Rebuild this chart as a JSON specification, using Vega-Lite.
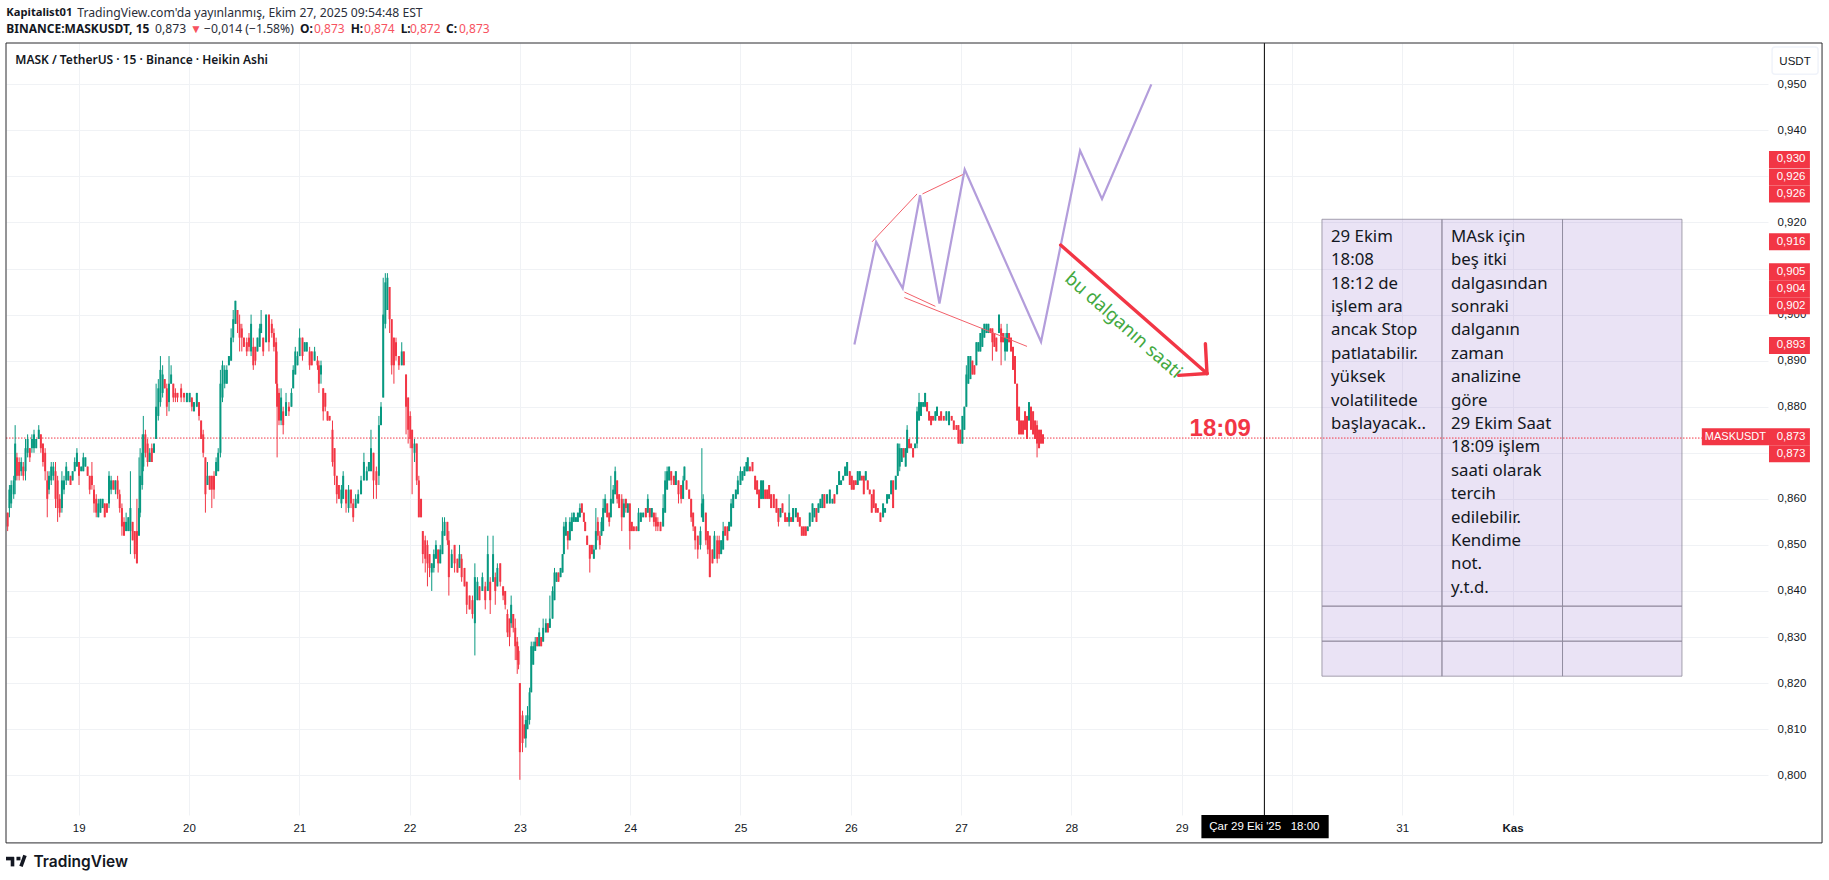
{
"$schema":"https://vega.github.io/schema/vega-lite/v6.json",
"width":1762,"height":772,"autosize":"none",
"padding":{"left":6,"top":43,"right":61,"bottom":65},
"background":"#ffffff",
"config":{"view":{"stroke":null},"font":"Noto Sans"},
"datasets":{
"candles":[
{"d":18.356,"o":0.857,"c":0.854,"p":0.853,"h":0.857},
{"d":18.372,"o":0.858,"c":0.862,"p":0.856,"h":0.863},
{"d":18.388,"o":0.859,"c":0.863,"p":0.858,"h":0.864},
{"d":18.411,"o":0.861,"c":0.864,"p":0.860,"h":0.865},
{"d":18.424,"o":0.864,"c":0.872,"p":0.861,"h":0.876},
{"d":18.440,"o":0.869,"c":0.865,"p":0.864,"h":0.870},
{"d":18.460,"o":0.868,"c":0.865,"p":0.864,"h":0.869},
{"d":18.479,"o":0.866,"c":0.868,"p":0.865,"h":0.869},
{"d":18.498,"o":0.867,"c":0.865,"p":0.864,"h":0.868},
{"d":18.518,"o":0.866,"c":0.871,"p":0.864,"h":0.873},
{"d":18.537,"o":0.870,"c":0.873,"p":0.869,"h":0.874},
{"d":18.557,"o":0.871,"c":0.869,"p":0.868,"h":0.871},
{"d":18.576,"o":0.871,"c":0.873,"p":0.870,"h":0.874},
{"d":18.595,"o":0.871,"c":0.874,"p":0.870,"h":0.875},
{"d":18.615,"o":0.871,"c":0.873,"p":0.871,"h":0.873},
{"d":18.638,"o":0.873,"c":0.875,"p":0.873,"h":0.876},
{"d":18.657,"o":0.874,"c":0.871,"p":0.870,"h":0.874},
{"d":18.676,"o":0.872,"c":0.868,"p":0.867,"h":0.872},
{"d":18.696,"o":0.870,"c":0.866,"p":0.864,"h":0.871},
{"d":18.715,"o":0.864,"c":0.860,"p":0.856,"h":0.866},
{"d":18.731,"o":0.862,"c":0.865,"p":0.861,"h":0.866},
{"d":18.751,"o":0.864,"c":0.867,"p":0.863,"h":0.868},
{"d":18.770,"o":0.865,"c":0.867,"p":0.864,"h":0.868},
{"d":18.790,"o":0.866,"c":0.860,"p":0.858,"h":0.868},
{"d":18.809,"o":0.864,"c":0.858,"p":0.855,"h":0.865},
{"d":18.828,"o":0.860,"c":0.857,"p":0.856,"h":0.861},
{"d":18.848,"o":0.858,"c":0.864,"p":0.857,"h":0.866},
{"d":18.867,"o":0.862,"c":0.864,"p":0.861,"h":0.865},
{"d":18.887,"o":0.864,"c":0.867,"p":0.863,"h":0.868},
{"d":18.906,"o":0.864,"c":0.866,"p":0.864,"h":0.866},
{"d":18.926,"o":0.865,"c":0.863,"p":0.863,"h":0.865},
{"d":18.945,"o":0.864,"c":0.866,"p":0.864,"h":0.866},
{"d":18.964,"o":0.866,"c":0.868,"p":0.866,"h":0.869},
{"d":18.984,"o":0.867,"c":0.870,"p":0.867,"h":0.871},
{"d":19.003,"o":0.868,"c":0.865,"p":0.863,"h":0.868},
{"d":19.023,"o":0.866,"c":0.867,"p":0.866,"h":0.867},
{"d":19.042,"o":0.866,"c":0.869,"p":0.866,"h":0.870},
{"d":19.061,"o":0.867,"c":0.869,"p":0.867,"h":0.869},
{"d":19.081,"o":0.867,"c":0.865,"p":0.865,"h":0.867},
{"d":19.100,"o":0.865,"c":0.862,"p":0.861,"h":0.865},
{"d":19.120,"o":0.865,"c":0.863,"p":0.862,"h":0.868},
{"d":19.139,"o":0.862,"c":0.859,"p":0.857,"h":0.863},
{"d":19.159,"o":0.860,"c":0.857,"p":0.856,"h":0.861},
{"d":19.178,"o":0.856,"c":0.859,"p":0.856,"h":0.860},
{"d":19.197,"o":0.857,"c":0.860,"p":0.857,"h":0.860},
{"d":19.217,"o":0.858,"c":0.860,"p":0.858,"h":0.860},
{"d":19.236,"o":0.859,"c":0.856,"p":0.856,"h":0.859},
{"d":19.256,"o":0.859,"c":0.857,"p":0.857,"h":0.859},
{"d":19.275,"o":0.859,"c":0.865,"p":0.858,"h":0.866},
{"d":19.294,"o":0.862,"c":0.864,"p":0.861,"h":0.865},
{"d":19.314,"o":0.864,"c":0.862,"p":0.862,"h":0.864},
{"d":19.333,"o":0.862,"c":0.864,"p":0.861,"h":0.864},
{"d":19.353,"o":0.864,"c":0.861,"p":0.860,"h":0.865},
{"d":19.372,"o":0.861,"c":0.858,"p":0.857,"h":0.862},
{"d":19.392,"o":0.858,"c":0.854,"p":0.852,"h":0.859},
{"d":19.411,"o":0.855,"c":0.852,"p":0.852,"h":0.856},
{"d":19.430,"o":0.853,"c":0.855,"p":0.853,"h":0.857},
{"d":19.450,"o":0.853,"c":0.856,"p":0.853,"h":0.856},
{"d":19.469,"o":0.853,"c":0.858,"p":0.848,"h":0.866},
{"d":19.489,"o":0.855,"c":0.851,"p":0.851,"h":0.855},
{"d":19.508,"o":0.853,"c":0.848,"p":0.847,"h":0.853},
{"d":19.528,"o":0.853,"c":0.846,"p":0.846,"h":0.860},
{"d":19.547,"o":0.852,"c":0.858,"p":0.852,"h":0.869},
{"d":19.557,"o":0.857,"c":0.865,"p":0.856,"h":0.871},
{"d":19.576,"o":0.863,"c":0.870,"p":0.862,"h":0.874},
{"d":19.586,"o":0.867,"c":0.874,"p":0.866,"h":0.878},
{"d":19.605,"o":0.874,"c":0.870,"p":0.869,"h":0.875},
{"d":19.625,"o":0.872,"c":0.868,"p":0.867,"h":0.873},
{"d":19.644,"o":0.868,"c":0.870,"p":0.868,"h":0.871},
{"d":19.663,"o":0.871,"c":0.868,"p":0.868,"h":0.872},
{"d":19.683,"o":0.870,"c":0.872,"p":0.870,"h":0.872},
{"d":19.702,"o":0.873,"c":0.880,"p":0.873,"h":0.885},
{"d":19.722,"o":0.878,"c":0.884,"p":0.877,"h":0.886},
{"d":19.741,"o":0.881,"c":0.888,"p":0.880,"h":0.891},
{"d":19.761,"o":0.883,"c":0.887,"p":0.882,"h":0.889},
{"d":19.780,"o":0.886,"c":0.884,"p":0.884,"h":0.886},
{"d":19.799,"o":0.884,"c":0.880,"p":0.878,"h":0.885},
{"d":19.819,"o":0.881,"c":0.885,"p":0.879,"h":0.891},
{"d":19.838,"o":0.885,"c":0.887,"p":0.885,"h":0.889},
{"d":19.858,"o":0.885,"c":0.882,"p":0.881,"h":0.885},
{"d":19.877,"o":0.883,"c":0.882,"p":0.881,"h":0.884},
{"d":19.896,"o":0.883,"c":0.882,"p":0.881,"h":0.883},
{"d":19.929,"o":0.884,"c":0.882,"p":0.881,"h":0.885},
{"d":19.955,"o":0.883,"c":0.882,"p":0.881,"h":0.883},
{"d":19.981,"o":0.881,"c":0.883,"p":0.881,"h":0.883},
{"d":20.006,"o":0.881,"c":0.883,"p":0.881,"h":0.883},
{"d":20.026,"o":0.882,"c":0.880,"p":0.879,"h":0.882},
{"d":20.045,"o":0.879,"c":0.881,"p":0.879,"h":0.881},
{"d":20.071,"o":0.880,"c":0.883,"p":0.880,"h":0.883},
{"d":20.091,"o":0.881,"c":0.878,"p":0.877,"h":0.881},
{"d":20.110,"o":0.877,"c":0.873,"p":0.873,"h":0.877},
{"d":20.129,"o":0.874,"c":0.870,"p":0.869,"h":0.875},
{"d":20.149,"o":0.869,"c":0.861,"p":0.857,"h":0.869},
{"d":20.168,"o":0.863,"c":0.865,"p":0.863,"h":0.868},
{"d":20.188,"o":0.865,"c":0.862,"p":0.862,"h":0.865},
{"d":20.207,"o":0.865,"c":0.862,"p":0.858,"h":0.865},
{"d":20.227,"o":0.865,"c":0.862,"p":0.860,"h":0.866},
{"d":20.246,"o":0.865,"c":0.868,"p":0.865,"h":0.869},
{"d":20.265,"o":0.866,"c":0.870,"p":0.866,"h":0.871},
{"d":20.285,"o":0.870,"c":0.885,"p":0.869,"h":0.888},
{"d":20.304,"o":0.882,"c":0.889,"p":0.881,"h":0.890},
{"d":20.324,"o":0.885,"c":0.888,"p":0.884,"h":0.889},
{"d":20.343,"o":0.885,"c":0.888,"p":0.885,"h":0.889},
{"d":20.362,"o":0.889,"c":0.891,"p":0.889,"h":0.891},
{"d":20.382,"o":0.890,"c":0.895,"p":0.890,"h":0.897},
{"d":20.401,"o":0.895,"c":0.899,"p":0.894,"h":0.901},
{"d":20.421,"o":0.898,"c":0.903,"p":0.898,"h":0.903},
{"d":20.440,"o":0.901,"c":0.898,"p":0.896,"h":0.901},
{"d":20.459,"o":0.898,"c":0.895,"p":0.892,"h":0.900},
{"d":20.479,"o":0.897,"c":0.895,"p":0.892,"h":0.898},
{"d":20.498,"o":0.895,"c":0.893,"p":0.893,"h":0.895},
{"d":20.524,"o":0.894,"c":0.892,"p":0.891,"h":0.895},
{"d":20.544,"o":0.895,"c":0.893,"p":0.892,"h":0.896},
{"d":20.563,"o":0.892,"c":0.898,"p":0.891,"h":0.900},
{"d":20.583,"o":0.893,"c":0.889,"p":0.888,"h":0.895},
{"d":20.602,"o":0.893,"c":0.890,"p":0.889,"h":0.893},
{"d":20.621,"o":0.892,"c":0.895,"p":0.892,"h":0.895},
{"d":20.641,"o":0.893,"c":0.897,"p":0.893,"h":0.898},
{"d":20.654,"o":0.896,"c":0.898,"p":0.896,"h":0.901},
{"d":20.673,"o":0.895,"c":0.892,"p":0.891,"h":0.895},
{"d":20.699,"o":0.894,"c":0.900,"p":0.894,"h":0.900},
{"d":20.725,"o":0.900,"c":0.894,"p":0.892,"h":0.900},
{"d":20.751,"o":0.898,"c":0.896,"p":0.895,"h":0.899},
{"d":20.770,"o":0.896,"c":0.893,"p":0.892,"h":0.897},
{"d":20.790,"o":0.894,"c":0.885,"p":0.885,"h":0.895},
{"d":20.799,"o":0.885,"c":0.880,"p":0.869,"h":0.892},
{"d":20.816,"o":0.883,"c":0.877,"p":0.876,"h":0.884},
{"d":20.835,"o":0.877,"c":0.882,"p":0.876,"h":0.884},
{"d":20.854,"o":0.879,"c":0.876,"p":0.874,"h":0.880},
{"d":20.880,"o":0.878,"c":0.881,"p":0.878,"h":0.883},
{"d":20.906,"o":0.880,"c":0.879,"p":0.878,"h":0.881},
{"d":20.929,"o":0.880,"c":0.883,"p":0.880,"h":0.884},
{"d":20.945,"o":0.884,"c":0.888,"p":0.884,"h":0.889},
{"d":20.964,"o":0.887,"c":0.892,"p":0.887,"h":0.893},
{"d":20.984,"o":0.889,"c":0.891,"p":0.889,"h":0.892},
{"d":21.003,"o":0.891,"c":0.895,"p":0.891,"h":0.897},
{"d":21.029,"o":0.895,"c":0.891,"p":0.890,"h":0.895},
{"d":21.049,"o":0.892,"c":0.894,"p":0.892,"h":0.894},
{"d":21.068,"o":0.892,"c":0.894,"p":0.892,"h":0.894},
{"d":21.094,"o":0.892,"c":0.889,"p":0.888,"h":0.893},
{"d":21.113,"o":0.892,"c":0.889,"p":0.889,"h":0.892},
{"d":21.139,"o":0.890,"c":0.892,"p":0.890,"h":0.893},
{"d":21.165,"o":0.890,"c":0.889,"p":0.888,"h":0.891},
{"d":21.178,"o":0.889,"c":0.885,"p":0.883,"h":0.890},
{"d":21.197,"o":0.887,"c":0.889,"p":0.885,"h":0.890},
{"d":21.217,"o":0.884,"c":0.879,"p":0.877,"h":0.884},
{"d":21.236,"o":0.883,"c":0.880,"p":0.879,"h":0.883},
{"d":21.256,"o":0.879,"c":0.877,"p":0.877,"h":0.879},
{"d":21.275,"o":0.878,"c":0.877,"p":0.877,"h":0.878},
{"d":21.301,"o":0.875,"c":0.868,"p":0.867,"h":0.877},
{"d":21.320,"o":0.871,"c":0.865,"p":0.863,"h":0.871},
{"d":21.340,"o":0.865,"c":0.861,"p":0.859,"h":0.865},
{"d":21.359,"o":0.863,"c":0.860,"p":0.860,"h":0.863},
{"d":21.382,"o":0.859,"c":0.862,"p":0.858,"h":0.863},
{"d":21.398,"o":0.860,"c":0.865,"p":0.860,"h":0.866},
{"d":21.424,"o":0.862,"c":0.859,"p":0.857,"h":0.862},
{"d":21.447,"o":0.858,"c":0.862,"p":0.857,"h":0.863},
{"d":21.469,"o":0.862,"c":0.859,"p":0.858,"h":0.862},
{"d":21.489,"o":0.859,"c":0.856,"p":0.855,"h":0.860},
{"d":21.511,"o":0.858,"c":0.860,"p":0.858,"h":0.861},
{"d":21.534,"o":0.859,"c":0.861,"p":0.859,"h":0.862},
{"d":21.560,"o":0.861,"c":0.864,"p":0.861,"h":0.865},
{"d":21.586,"o":0.864,"c":0.868,"p":0.864,"h":0.870},
{"d":21.612,"o":0.864,"c":0.866,"p":0.864,"h":0.867},
{"d":21.631,"o":0.866,"c":0.868,"p":0.866,"h":0.868},
{"d":21.650,"o":0.866,"c":0.871,"p":0.866,"h":0.875},
{"d":21.673,"o":0.870,"c":0.864,"p":0.860,"h":0.870},
{"d":21.699,"o":0.866,"c":0.863,"p":0.860,"h":0.867},
{"d":21.722,"o":0.865,"c":0.876,"p":0.863,"h":0.878},
{"d":21.741,"o":0.876,"c":0.880,"p":0.876,"h":0.881},
{"d":21.761,"o":0.882,"c":0.900,"p":0.882,"h":0.908},
{"d":21.780,"o":0.898,"c":0.907,"p":0.897,"h":0.909},
{"d":21.799,"o":0.901,"c":0.908,"p":0.901,"h":0.909},
{"d":21.819,"o":0.906,"c":0.899,"p":0.896,"h":0.906},
{"d":21.838,"o":0.899,"c":0.889,"p":0.887,"h":0.899},
{"d":21.858,"o":0.895,"c":0.889,"p":0.885,"h":0.895},
{"d":21.877,"o":0.894,"c":0.891,"p":0.890,"h":0.895},
{"d":21.903,"o":0.891,"c":0.889,"p":0.888,"h":0.891},
{"d":21.929,"o":0.889,"c":0.892,"p":0.889,"h":0.894},
{"d":21.948,"o":0.892,"c":0.889,"p":0.889,"h":0.892},
{"d":21.968,"o":0.887,"c":0.880,"p":0.874,"h":0.887},
{"d":21.987,"o":0.882,"c":0.875,"p":0.872,"h":0.882},
{"d":22.006,"o":0.878,"c":0.873,"p":0.871,"h":0.879},
{"d":22.023,"o":0.875,"c":0.871,"p":0.861,"h":0.875},
{"d":22.045,"o":0.870,"c":0.872,"p":0.868,"h":0.873},
{"d":22.065,"o":0.872,"c":0.864,"p":0.863,"h":0.872},
{"d":22.084,"o":0.864,"c":0.856,"p":0.856,"h":0.865},
{"d":22.104,"o":0.860,"c":0.856,"p":0.856,"h":0.860},
{"d":22.120,"o":0.853,"c":0.848,"p":0.846,"h":0.853},
{"d":22.142,"o":0.851,"c":0.847,"p":0.844,"h":0.852},
{"d":22.162,"o":0.850,"c":0.846,"p":0.841,"h":0.851},
{"d":22.181,"o":0.848,"c":0.845,"p":0.843,"h":0.848},
{"d":22.201,"o":0.844,"c":0.846,"p":0.840,"h":0.846},
{"d":22.220,"o":0.845,"c":0.848,"p":0.844,"h":0.849},
{"d":22.239,"o":0.847,"c":0.850,"p":0.847,"h":0.851},
{"d":22.259,"o":0.849,"c":0.846,"p":0.844,"h":0.849},
{"d":22.278,"o":0.846,"c":0.849,"p":0.846,"h":0.850},
{"d":22.298,"o":0.848,"c":0.853,"p":0.848,"h":0.856},
{"d":22.317,"o":0.852,"c":0.855,"p":0.852,"h":0.856},
{"d":22.343,"o":0.855,"c":0.851,"p":0.850,"h":0.855},
{"d":22.356,"o":0.851,"c":0.843,"p":0.839,"h":0.853},
{"d":22.382,"o":0.845,"c":0.848,"p":0.845,"h":0.849},
{"d":22.408,"o":0.850,"c":0.846,"p":0.844,"h":0.850},
{"d":22.434,"o":0.847,"c":0.844,"p":0.844,"h":0.847},
{"d":22.453,"o":0.845,"c":0.848,"p":0.845,"h":0.850},
{"d":22.472,"o":0.847,"c":0.843,"p":0.842,"h":0.848},
{"d":22.498,"o":0.845,"c":0.841,"p":0.841,"h":0.845},
{"d":22.518,"o":0.842,"c":0.837,"p":0.835,"h":0.842},
{"d":22.544,"o":0.839,"c":0.836,"p":0.836,"h":0.839},
{"d":22.570,"o":0.838,"c":0.835,"p":0.834,"h":0.839},
{"d":22.592,"o":0.833,"c":0.843,"p":0.826,"h":0.846},
{"d":22.615,"o":0.838,"c":0.842,"p":0.838,"h":0.843},
{"d":22.634,"o":0.841,"c":0.838,"p":0.838,"h":0.841},
{"d":22.660,"o":0.840,"c":0.843,"p":0.840,"h":0.844},
{"d":22.686,"o":0.841,"c":0.838,"p":0.836,"h":0.842},
{"d":22.709,"o":0.840,"c":0.848,"p":0.840,"h":0.852},
{"d":22.731,"o":0.842,"c":0.838,"p":0.835,"h":0.843},
{"d":22.757,"o":0.842,"c":0.848,"p":0.842,"h":0.852},
{"d":22.777,"o":0.843,"c":0.840,"p":0.837,"h":0.844},
{"d":22.796,"o":0.841,"c":0.845,"p":0.841,"h":0.846},
{"d":22.822,"o":0.846,"c":0.842,"p":0.841,"h":0.846},
{"d":22.848,"o":0.841,"c":0.839,"p":0.838,"h":0.841},
{"d":22.867,"o":0.840,"c":0.837,"p":0.836,"h":0.840},
{"d":22.887,"o":0.835,"c":0.831,"p":0.830,"h":0.836},
{"d":22.906,"o":0.834,"c":0.830,"p":0.828,"h":0.834},
{"d":22.921,"o":0.833,"c":0.837,"p":0.832,"h":0.839},
{"d":22.940,"o":0.835,"c":0.832,"p":0.831,"h":0.835},
{"d":22.958,"o":0.832,"c":0.828,"p":0.825,"h":0.834},
{"d":22.976,"o":0.829,"c":0.825,"p":0.822,"h":0.830},
{"d":22.988,"o":0.827,"c":0.824,"p":0.823,"h":0.828},
{"d":23.000,"o":0.820,"c":0.805,"p":0.799,"h":0.820},
{"d":23.024,"o":0.813,"c":0.807,"p":0.805,"h":0.814},
{"d":23.042,"o":0.811,"c":0.808,"p":0.808,"h":0.811},
{"d":23.054,"o":0.808,"c":0.812,"p":0.806,"h":0.813},
{"d":23.069,"o":0.810,"c":0.813,"p":0.810,"h":0.815},
{"d":23.088,"o":0.812,"c":0.818,"p":0.811,"h":0.819},
{"d":23.103,"o":0.818,"c":0.828,"p":0.818,"h":0.829},
{"d":23.121,"o":0.824,"c":0.828,"p":0.824,"h":0.829},
{"d":23.139,"o":0.827,"c":0.829,"p":0.827,"h":0.830},
{"d":23.157,"o":0.830,"c":0.828,"p":0.828,"h":0.830},
{"d":23.175,"o":0.828,"c":0.831,"p":0.828,"h":0.832},
{"d":23.193,"o":0.830,"c":0.828,"p":0.828,"h":0.830},
{"d":23.211,"o":0.829,"c":0.832,"p":0.829,"h":0.834},
{"d":23.236,"o":0.831,"c":0.833,"p":0.831,"h":0.834},
{"d":23.254,"o":0.833,"c":0.831,"p":0.831,"h":0.833},
{"d":23.272,"o":0.832,"c":0.834,"p":0.832,"h":0.839},
{"d":23.296,"o":0.834,"c":0.840,"p":0.834,"h":0.841},
{"d":23.314,"o":0.838,"c":0.844,"p":0.838,"h":0.845},
{"d":23.332,"o":0.842,"c":0.844,"p":0.842,"h":0.844},
{"d":23.350,"o":0.844,"c":0.842,"p":0.842,"h":0.844},
{"d":23.369,"o":0.843,"c":0.845,"p":0.843,"h":0.845},
{"d":23.387,"o":0.844,"c":0.848,"p":0.844,"h":0.848},
{"d":23.399,"o":0.848,"c":0.854,"p":0.848,"h":0.855},
{"d":23.417,"o":0.852,"c":0.855,"p":0.852,"h":0.856},
{"d":23.435,"o":0.853,"c":0.851,"p":0.849,"h":0.853},
{"d":23.453,"o":0.851,"c":0.855,"p":0.851,"h":0.856},
{"d":23.471,"o":0.853,"c":0.856,"p":0.853,"h":0.857},
{"d":23.489,"o":0.855,"c":0.857,"p":0.855,"h":0.857},
{"d":23.508,"o":0.855,"c":0.856,"p":0.855,"h":0.856},
{"d":23.526,"o":0.855,"c":0.857,"p":0.855,"h":0.857},
{"d":23.544,"o":0.856,"c":0.858,"p":0.856,"h":0.859},
{"d":23.562,"o":0.859,"c":0.857,"p":0.857,"h":0.859},
{"d":23.580,"o":0.857,"c":0.855,"p":0.855,"h":0.857},
{"d":23.592,"o":0.855,"c":0.853,"p":0.853,"h":0.855},
{"d":23.610,"o":0.852,"c":0.850,"p":0.850,"h":0.852},
{"d":23.634,"o":0.850,"c":0.847,"p":0.844,"h":0.850},
{"d":23.653,"o":0.850,"c":0.848,"p":0.848,"h":0.850},
{"d":23.671,"o":0.847,"c":0.849,"p":0.847,"h":0.850},
{"d":23.689,"o":0.849,"c":0.853,"p":0.849,"h":0.858},
{"d":23.707,"o":0.855,"c":0.852,"p":0.851,"h":0.856},
{"d":23.725,"o":0.852,"c":0.850,"p":0.849,"h":0.853},
{"d":23.740,"o":0.852,"c":0.855,"p":0.852,"h":0.856},
{"d":23.755,"o":0.853,"c":0.858,"p":0.853,"h":0.860},
{"d":23.773,"o":0.857,"c":0.860,"p":0.857,"h":0.861},
{"d":23.792,"o":0.859,"c":0.856,"p":0.856,"h":0.859},
{"d":23.810,"o":0.857,"c":0.855,"p":0.854,"h":0.857},
{"d":23.825,"o":0.856,"c":0.860,"p":0.856,"h":0.865},
{"d":23.846,"o":0.859,"c":0.862,"p":0.859,"h":0.863},
{"d":23.864,"o":0.861,"c":0.866,"p":0.861,"h":0.867},
{"d":23.882,"o":0.864,"c":0.860,"p":0.859,"h":0.864},
{"d":23.900,"o":0.861,"c":0.858,"p":0.858,"h":0.861},
{"d":23.924,"o":0.860,"c":0.856,"p":0.853,"h":0.861},
{"d":23.943,"o":0.856,"c":0.859,"p":0.856,"h":0.860},
{"d":23.961,"o":0.860,"c":0.858,"p":0.857,"h":0.860},
{"d":23.979,"o":0.857,"c":0.859,"p":0.857,"h":0.859},
{"d":23.997,"o":0.859,"c":0.853,"p":0.849,"h":0.859},
{"d":24.015,"o":0.855,"c":0.853,"p":0.853,"h":0.855},
{"d":24.033,"o":0.854,"c":0.853,"p":0.853,"h":0.854},
{"d":24.057,"o":0.854,"c":0.853,"p":0.853,"h":0.854},
{"d":24.076,"o":0.853,"c":0.857,"p":0.853,"h":0.858},
{"d":24.097,"o":0.855,"c":0.857,"p":0.855,"h":0.857},
{"d":24.118,"o":0.856,"c":0.857,"p":0.856,"h":0.857},
{"d":24.142,"o":0.858,"c":0.856,"p":0.856,"h":0.858},
{"d":24.160,"o":0.857,"c":0.860,"p":0.857,"h":0.861},
{"d":24.178,"o":0.858,"c":0.856,"p":0.855,"h":0.858},
{"d":24.196,"o":0.856,"c":0.858,"p":0.856,"h":0.858},
{"d":24.215,"o":0.857,"c":0.855,"p":0.854,"h":0.857},
{"d":24.233,"o":0.856,"c":0.854,"p":0.853,"h":0.857},
{"d":24.251,"o":0.855,"c":0.854,"p":0.853,"h":0.856},
{"d":24.275,"o":0.855,"c":0.853,"p":0.853,"h":0.855},
{"d":24.299,"o":0.854,"c":0.858,"p":0.854,"h":0.861},
{"d":24.317,"o":0.857,"c":0.864,"p":0.857,"h":0.866},
{"d":24.335,"o":0.862,"c":0.866,"p":0.862,"h":0.867},
{"d":24.353,"o":0.864,"c":0.867,"p":0.864,"h":0.867},
{"d":24.372,"o":0.866,"c":0.864,"p":0.863,"h":0.866},
{"d":24.396,"o":0.865,"c":0.863,"p":0.863,"h":0.865},
{"d":24.414,"o":0.863,"c":0.866,"p":0.863,"h":0.866},
{"d":24.438,"o":0.864,"c":0.861,"p":0.859,"h":0.864},
{"d":24.462,"o":0.863,"c":0.860,"p":0.859,"h":0.863},
{"d":24.480,"o":0.860,"c":0.864,"p":0.860,"h":0.865},
{"d":24.492,"o":0.864,"c":0.867,"p":0.864,"h":0.867},
{"d":24.511,"o":0.864,"c":0.862,"p":0.862,"h":0.864},
{"d":24.535,"o":0.862,"c":0.860,"p":0.860,"h":0.862},
{"d":24.553,"o":0.860,"c":0.856,"p":0.855,"h":0.860},
{"d":24.571,"o":0.857,"c":0.854,"p":0.853,"h":0.857},
{"d":24.589,"o":0.854,"c":0.851,"p":0.849,"h":0.854},
{"d":24.613,"o":0.852,"c":0.849,"p":0.847,"h":0.852},
{"d":24.637,"o":0.850,"c":0.853,"p":0.849,"h":0.854},
{"d":24.650,"o":0.856,"c":0.859,"p":0.856,"h":0.871},
{"d":24.662,"o":0.855,"c":0.860,"p":0.855,"h":0.861},
{"d":24.686,"o":0.857,"c":0.851,"p":0.850,"h":0.857},
{"d":24.704,"o":0.853,"c":0.849,"p":0.848,"h":0.853},
{"d":24.722,"o":0.852,"c":0.843,"p":0.843,"h":0.852},
{"d":24.746,"o":0.849,"c":0.846,"p":0.846,"h":0.849},
{"d":24.764,"o":0.847,"c":0.852,"p":0.847,"h":0.853},
{"d":24.789,"o":0.851,"c":0.847,"p":0.846,"h":0.852},
{"d":24.807,"o":0.851,"c":0.848,"p":0.847,"h":0.852},
{"d":24.825,"o":0.848,"c":0.851,"p":0.848,"h":0.851},
{"d":24.843,"o":0.849,"c":0.853,"p":0.849,"h":0.855},
{"d":24.861,"o":0.854,"c":0.852,"p":0.852,"h":0.854},
{"d":24.882,"o":0.854,"c":0.851,"p":0.851,"h":0.854},
{"d":24.897,"o":0.853,"c":0.855,"p":0.853,"h":0.855},
{"d":24.915,"o":0.854,"c":0.859,"p":0.854,"h":0.860},
{"d":24.934,"o":0.858,"c":0.861,"p":0.858,"h":0.861},
{"d":24.958,"o":0.860,"c":0.862,"p":0.860,"h":0.862},
{"d":24.976,"o":0.861,"c":0.864,"p":0.861,"h":0.865},
{"d":25.000,"o":0.863,"c":0.866,"p":0.863,"h":0.867},
{"d":25.018,"o":0.864,"c":0.866,"p":0.864,"h":0.866},
{"d":25.036,"o":0.865,"c":0.867,"p":0.865,"h":0.867},
{"d":25.054,"o":0.866,"c":0.868,"p":0.866,"h":0.868},
{"d":25.066,"o":0.866,"c":0.869,"p":0.866,"h":0.869},
{"d":25.085,"o":0.867,"c":0.866,"p":0.866,"h":0.867},
{"d":25.109,"o":0.868,"c":0.866,"p":0.866,"h":0.868},
{"d":25.133,"o":0.865,"c":0.862,"p":0.862,"h":0.865},
{"d":25.151,"o":0.864,"c":0.861,"p":0.861,"h":0.864},
{"d":25.169,"o":0.862,"c":0.858,"p":0.858,"h":0.862},
{"d":25.187,"o":0.860,"c":0.864,"p":0.860,"h":0.864},
{"d":25.205,"o":0.860,"c":0.864,"p":0.860,"h":0.864},
{"d":25.224,"o":0.862,"c":0.860,"p":0.860,"h":0.862},
{"d":25.242,"o":0.862,"c":0.860,"p":0.860,"h":0.862},
{"d":25.260,"o":0.863,"c":0.860,"p":0.860,"h":0.863},
{"d":25.278,"o":0.861,"c":0.858,"p":0.858,"h":0.861},
{"d":25.302,"o":0.861,"c":0.858,"p":0.858,"h":0.861},
{"d":25.326,"o":0.860,"c":0.857,"p":0.857,"h":0.860},
{"d":25.344,"o":0.858,"c":0.855,"p":0.854,"h":0.858},
{"d":25.363,"o":0.856,"c":0.858,"p":0.856,"h":0.858},
{"d":25.381,"o":0.859,"c":0.857,"p":0.857,"h":0.859},
{"d":25.405,"o":0.857,"c":0.855,"p":0.855,"h":0.857},
{"d":25.423,"o":0.856,"c":0.855,"p":0.855,"h":0.856},
{"d":25.441,"o":0.855,"c":0.857,"p":0.854,"h":0.861},
{"d":25.459,"o":0.856,"c":0.855,"p":0.855,"h":0.856},
{"d":25.477,"o":0.855,"c":0.858,"p":0.855,"h":0.858},
{"d":25.502,"o":0.856,"c":0.858,"p":0.856,"h":0.858},
{"d":25.520,"o":0.857,"c":0.855,"p":0.855,"h":0.857},
{"d":25.538,"o":0.856,"c":0.854,"p":0.854,"h":0.856},
{"d":25.556,"o":0.854,"c":0.852,"p":0.852,"h":0.854},
{"d":25.574,"o":0.854,"c":0.852,"p":0.852,"h":0.854},
{"d":25.592,"o":0.854,"c":0.852,"p":0.852,"h":0.854},
{"d":25.610,"o":0.853,"c":0.854,"p":0.853,"h":0.854},
{"d":25.628,"o":0.854,"c":0.857,"p":0.854,"h":0.857},
{"d":25.653,"o":0.855,"c":0.859,"p":0.855,"h":0.859},
{"d":25.671,"o":0.856,"c":0.858,"p":0.856,"h":0.858},
{"d":25.689,"o":0.858,"c":0.855,"p":0.855,"h":0.858},
{"d":25.707,"o":0.857,"c":0.859,"p":0.857,"h":0.859},
{"d":25.725,"o":0.858,"c":0.860,"p":0.858,"h":0.860},
{"d":25.743,"o":0.858,"c":0.861,"p":0.858,"h":0.861},
{"d":25.761,"o":0.861,"c":0.858,"p":0.858,"h":0.861},
{"d":25.785,"o":0.859,"c":0.861,"p":0.859,"h":0.861},
{"d":25.810,"o":0.859,"c":0.862,"p":0.859,"h":0.862},
{"d":25.834,"o":0.859,"c":0.860,"p":0.859,"h":0.860},
{"d":25.852,"o":0.861,"c":0.859,"p":0.859,"h":0.861},
{"d":25.876,"o":0.861,"c":0.863,"p":0.861,"h":0.863},
{"d":25.894,"o":0.863,"c":0.866,"p":0.863,"h":0.866},
{"d":25.912,"o":0.863,"c":0.864,"p":0.863,"h":0.864},
{"d":25.931,"o":0.864,"c":0.865,"p":0.864,"h":0.865},
{"d":25.949,"o":0.865,"c":0.867,"p":0.865,"h":0.867},
{"d":25.967,"o":0.865,"c":0.868,"p":0.865,"h":0.868},
{"d":25.991,"o":0.866,"c":0.863,"p":0.863,"h":0.866},
{"d":26.009,"o":0.865,"c":0.862,"p":0.862,"h":0.865},
{"d":26.027,"o":0.864,"c":0.862,"p":0.862,"h":0.864},
{"d":26.045,"o":0.864,"c":0.863,"p":0.863,"h":0.864},
{"d":26.063,"o":0.863,"c":0.866,"p":0.863,"h":0.866},
{"d":26.082,"o":0.864,"c":0.866,"p":0.864,"h":0.866},
{"d":26.100,"o":0.865,"c":0.864,"p":0.864,"h":0.865},
{"d":26.118,"o":0.865,"c":0.861,"p":0.861,"h":0.865},
{"d":26.136,"o":0.864,"c":0.866,"p":0.864,"h":0.866},
{"d":26.154,"o":0.864,"c":0.862,"p":0.862,"h":0.864},
{"d":26.172,"o":0.862,"c":0.861,"p":0.861,"h":0.862},
{"d":26.190,"o":0.861,"c":0.857,"p":0.857,"h":0.861},
{"d":26.208,"o":0.862,"c":0.858,"p":0.858,"h":0.862},
{"d":26.227,"o":0.859,"c":0.857,"p":0.857,"h":0.859},
{"d":26.245,"o":0.858,"c":0.857,"p":0.857,"h":0.858},
{"d":26.269,"o":0.857,"c":0.855,"p":0.855,"h":0.857},
{"d":26.293,"o":0.856,"c":0.859,"p":0.856,"h":0.859},
{"d":26.311,"o":0.857,"c":0.858,"p":0.857,"h":0.858},
{"d":26.329,"o":0.859,"c":0.861,"p":0.859,"h":0.861},
{"d":26.347,"o":0.860,"c":0.861,"p":0.860,"h":0.861},
{"d":26.366,"o":0.861,"c":0.864,"p":0.861,"h":0.864},
{"d":26.384,"o":0.864,"c":0.858,"p":0.858,"h":0.864},
{"d":26.408,"o":0.862,"c":0.865,"p":0.862,"h":0.865},
{"d":26.426,"o":0.865,"c":0.872,"p":0.865,"h":0.872},
{"d":26.444,"o":0.867,"c":0.871,"p":0.866,"h":0.872},
{"d":26.462,"o":0.868,"c":0.871,"p":0.868,"h":0.871},
{"d":26.480,"o":0.871,"c":0.869,"p":0.869,"h":0.871},
{"d":26.498,"o":0.867,"c":0.871,"p":0.867,"h":0.871},
{"d":26.511,"o":0.870,"c":0.875,"p":0.870,"h":0.876},
{"d":26.529,"o":0.873,"c":0.871,"p":0.871,"h":0.873},
{"d":26.547,"o":0.872,"c":0.871,"p":0.871,"h":0.872},
{"d":26.565,"o":0.871,"c":0.869,"p":0.869,"h":0.871},
{"d":26.583,"o":0.871,"c":0.872,"p":0.871,"h":0.872},
{"d":26.601,"o":0.872,"c":0.879,"p":0.871,"h":0.880},
{"d":26.619,"o":0.877,"c":0.881,"p":0.877,"h":0.883},
{"d":26.637,"o":0.878,"c":0.881,"p":0.878,"h":0.881},
{"d":26.656,"o":0.880,"c":0.881,"p":0.880,"h":0.881},
{"d":26.674,"o":0.880,"c":0.883,"p":0.880,"h":0.883},
{"d":26.692,"o":0.881,"c":0.879,"p":0.879,"h":0.881},
{"d":26.710,"o":0.879,"c":0.877,"p":0.877,"h":0.879},
{"d":26.728,"o":0.878,"c":0.876,"p":0.876,"h":0.878},
{"d":26.746,"o":0.878,"c":0.877,"p":0.877,"h":0.878},
{"d":26.767,"o":0.877,"c":0.879,"p":0.877,"h":0.879},
{"d":26.782,"o":0.878,"c":0.880,"p":0.878,"h":0.880},
{"d":26.801,"o":0.878,"c":0.877,"p":0.877,"h":0.878},
{"d":26.819,"o":0.879,"c":0.877,"p":0.877,"h":0.879},
{"d":26.843,"o":0.878,"c":0.877,"p":0.877,"h":0.878},
{"d":26.867,"o":0.877,"c":0.879,"p":0.877,"h":0.879},
{"d":26.891,"o":0.876,"c":0.879,"p":0.876,"h":0.879},
{"d":26.915,"o":0.878,"c":0.877,"p":0.877,"h":0.878},
{"d":26.934,"o":0.877,"c":0.875,"p":0.875,"h":0.877},
{"d":26.958,"o":0.876,"c":0.875,"p":0.875,"h":0.876},
{"d":26.976,"o":0.876,"c":0.872,"p":0.872,"h":0.876},
{"d":26.994,"o":0.875,"c":0.872,"p":0.872,"h":0.875},
{"d":27.012,"o":0.872,"c":0.878,"p":0.872,"h":0.878},
{"d":27.030,"o":0.875,"c":0.880,"p":0.875,"h":0.880},
{"d":27.048,"o":0.880,"c":0.887,"p":0.880,"h":0.889},
{"d":27.066,"o":0.885,"c":0.891,"p":0.885,"h":0.891},
{"d":27.085,"o":0.886,"c":0.891,"p":0.886,"h":0.891},
{"d":27.103,"o":0.890,"c":0.887,"p":0.887,"h":0.890},
{"d":27.121,"o":0.889,"c":0.887,"p":0.887,"h":0.889},
{"d":27.139,"o":0.889,"c":0.894,"p":0.889,"h":0.894},
{"d":27.157,"o":0.892,"c":0.894,"p":0.892,"h":0.894},
{"d":27.175,"o":0.892,"c":0.896,"p":0.892,"h":0.896},
{"d":27.193,"o":0.893,"c":0.897,"p":0.893,"h":0.897},
{"d":27.211,"o":0.895,"c":0.898,"p":0.895,"h":0.898},
{"d":27.230,"o":0.896,"c":0.898,"p":0.896,"h":0.898},
{"d":27.248,"o":0.896,"c":0.898,"p":0.896,"h":0.898},
{"d":27.266,"o":0.897,"c":0.896,"p":0.896,"h":0.897},
{"d":27.284,"o":0.897,"c":0.894,"p":0.890,"h":0.897},
{"d":27.302,"o":0.896,"c":0.893,"p":0.893,"h":0.896},
{"d":27.320,"o":0.895,"c":0.892,"p":0.892,"h":0.895},
{"d":27.344,"o":0.896,"c":0.900,"p":0.896,"h":0.900},
{"d":27.363,"o":0.897,"c":0.894,"p":0.889,"h":0.898},
{"d":27.381,"o":0.896,"c":0.894,"p":0.894,"h":0.896},
{"d":27.399,"o":0.892,"c":0.895,"p":0.890,"h":0.896},
{"d":27.417,"o":0.892,"c":0.896,"p":0.892,"h":0.898},
{"d":27.435,"o":0.896,"c":0.894,"p":0.894,"h":0.896},
{"d":27.453,"o":0.895,"c":0.892,"p":0.892,"h":0.895},
{"d":27.471,"o":0.893,"c":0.888,"p":0.888,"h":0.893},
{"d":27.489,"o":0.891,"c":0.885,"p":0.885,"h":0.891},
{"d":27.508,"o":0.885,"c":0.877,"p":0.877,"h":0.885},
{"d":27.526,"o":0.880,"c":0.874,"p":0.874,"h":0.880},
{"d":27.544,"o":0.877,"c":0.874,"p":0.874,"h":0.877},
{"d":27.562,"o":0.877,"c":0.874,"p":0.874,"h":0.877},
{"d":27.580,"o":0.879,"c":0.875,"p":0.875,"h":0.879},
{"d":27.598,"o":0.878,"c":0.873,"p":0.873,"h":0.878},
{"d":27.616,"o":0.877,"c":0.881,"p":0.877,"h":0.881},
{"d":27.634,"o":0.880,"c":0.875,"p":0.875,"h":0.880},
{"d":27.653,"o":0.879,"c":0.874,"p":0.874,"h":0.879},
{"d":27.671,"o":0.877,"c":0.873,"p":0.873,"h":0.877},
{"d":27.689,"o":0.876,"c":0.872,"p":0.869,"h":0.877},
{"d":27.707,"o":0.875,"c":0.871,"p":0.871,"h":0.875},
{"d":27.725,"o":0.875,"c":0.872,"p":0.872,"h":0.875},
{"d":27.743,"o":0.874,"c":0.872,"p":0.872,"h":0.874}
],
"wave":[
{"d":26.033,"p":0.8935},{"d":26.230,"p":0.9158},{"d":26.471,"p":0.9057},{"d":26.628,"p":0.9259},{"d":26.804,"p":0.9024},{"d":27.033,"p":0.9315},{"d":27.725,"p":0.8941},{"d":28.079,"p":0.9356},{"d":28.278,"p":0.9251},{"d":28.725,"p":0.95}
],
"thin":[
{"d":26.193,"p":0.9158,"d2":26.601,"p2":0.9262},
{"d":26.650,"p":0.9262,"d2":27.024,"p2":0.9305},
{"d":26.486,"p":0.9049,"d2":26.767,"p2":0.9018},
{"d":26.486,"p":0.9037,"d2":27.598,"p2":0.8931}
],
"arrow":[
{"d":27.903,"p":0.9151,"d2":29.230,"p2":0.8872},
{"d":29.215,"p":0.8937,"d2":29.230,"p2":0.8872},
{"d":28.973,"p":0.8868,"d2":29.230,"p2":0.8872}
],
"cells":[
{"d":30.272,"d2":31.360,"p":0.9207,"p2":0.8367},{"d":31.360,"d2":32.453,"p":0.9207,"p2":0.8367},{"d":32.453,"d2":33.536,"p":0.9207,"p2":0.8367},
{"d":30.272,"d2":31.360,"p":0.8367,"p2":0.8291},{"d":31.360,"d2":32.453,"p":0.8367,"p2":0.8291},{"d":32.453,"d2":33.536,"p":0.8367,"p2":0.8291},
{"d":30.272,"d2":31.360,"p":0.8291,"p2":0.8215},{"d":31.360,"d2":32.453,"p":0.8291,"p2":0.8215},{"d":32.453,"d2":33.536,"p":0.8291,"p2":0.8215}
],
"notes":[
{"d":30.354,"p":0.9169,"t":"29 Ekim"},{"d":30.354,"p":0.9118,"t":"18:08"},{"d":30.354,"p":0.9067,"t":"18:12 de"},{"d":30.354,"p":0.9017,"t":"işlem ara"},{"d":30.354,"p":0.8966,"t":"ancak Stop"},{"d":30.354,"p":0.8915,"t":"patlatabilir."},{"d":30.354,"p":0.8864,"t":"yüksek"},{"d":30.354,"p":0.8813,"t":"volatilitede"},{"d":30.354,"p":0.8763,"t":"başlayacak.."},
{"d":31.442,"p":0.9169,"t":"MAsk için"},{"d":31.442,"p":0.9118,"t":"beş itki"},{"d":31.442,"p":0.9067,"t":"dalgasından"},{"d":31.442,"p":0.9017,"t":"sonraki"},{"d":31.442,"p":0.8966,"t":"dalganın"},{"d":31.442,"p":0.8915,"t":"zaman"},{"d":31.442,"p":0.8864,"t":"analizine"},{"d":31.442,"p":0.8813,"t":"göre"},{"d":31.442,"p":0.8763,"t":"29 Ekim Saat"},{"d":31.442,"p":0.8712,"t":"18:09 işlem"},{"d":31.442,"p":0.8661,"t":"saati olarak"},{"d":31.442,"p":0.8610,"t":"tercih"},{"d":31.442,"p":0.8559,"t":"edilebilir."},{"d":31.442,"p":0.8509,"t":"Kendime"},{"d":31.442,"p":0.8458,"t":"not."},{"d":31.442,"p":0.8407,"t":"y.t.d."}
],
"tags":[
{"d":34.325,"d2":34.696,"p":0.9337,"t":"0,930"},{"d":34.325,"d2":34.696,"p":0.9299,"t":"0,926"},{"d":34.325,"d2":34.696,"p":0.9262,"t":"0,926"},{"d":34.325,"d2":34.696,"p":0.9158,"t":"0,916"},{"d":34.325,"d2":34.696,"p":0.9093,"t":"0,905"},{"d":34.325,"d2":34.696,"p":0.9056,"t":"0,904"},{"d":34.325,"d2":34.696,"p":0.9019,"t":"0,902"},{"d":34.325,"d2":34.696,"p":0.8933,"t":"0,893"},{"d":34.325,"d2":34.696,"p":0.8735,"t":"0,873"},{"d":34.325,"d2":34.696,"p":0.8698,"t":"0,873"}
],
"headBold":[
{"d":18.344,"p":0.96194,"t":"BINANCE:MASKUSDT, 15"},{"d":21.006,"p":0.96194,"t":"O:"},{"d":21.466,"p":0.96194,"t":"H:"},{"d":21.919,"p":0.96194,"t":"L:"},{"d":22.330,"p":0.96194,"t":"C:"}
],
"headPlain":[
{"d":18.987,"p":0.96555,"t":"TradingView.com'da yayınlanmış, Ekim 27, 2025 09:54:48 EST"},{"d":19.692,"p":0.96194,"t":"0,873"},{"d":20.136,"p":0.96194,"t":"−0,014 (−1.58%)"}
],
"headRed":[
{"d":20.009,"p":0.96194,"t":"▼"},{"d":21.133,"p":0.96194,"t":"0,873"},{"d":21.587,"p":0.96194,"t":"0,874"},{"d":22.003,"p":0.96194,"t":"0,872"},{"d":22.448,"p":0.96194,"t":"0,873"}
],
"logoBars":[
{"d":18.341,"p":0.7819,"d2":18.413,"p2":0.7819},
{"d":18.400,"p":0.7822,"d2":18.400,"p2":0.7802},
{"d":18.436,"p":0.7819,"d2":18.472,"p2":0.7819},
{"d":18.513,"p":0.7826,"d2":18.477,"p2":0.7802}
]
},
"encoding":{
"x":{"field":"d","type":"quantitative","title":null,
"scale":{"domain":[18.341,34.316],"nice":false,"zero":false},
"axis":{"orient":"bottom","values":[19,20,21,22,23,24,25,26,27,28,29,30,31,32],"labelExpr":"datum.value==32?'Kas':datum.value==30?'':format(datum.value,'d')","labelFont":"Liberation Sans","labelFontSize":11.5,"labelColor":"#131722","labelPadding":7,"labelFontWeight":{"condition":{"test":"datum.value==32","value":"bold"},"value":"normal"},"tickSize":0,"domain":false,"grid":true,"gridColor":"#F0F2F5","gridWidth":1}},
"y":{"field":"p","type":"quantitative","title":null,
"scale":{"domain":[0.79136,0.95897],"nice":false,"zero":false},
"axis":{"orient":"right","values":[0.80,0.81,0.82,0.83,0.84,0.85,0.86,0.87,0.88,0.89,0.90,0.91,0.92,0.93,0.94,0.95],"labelExpr":"replace(format(datum.value,'.3f'),'.',',')","labelFont":"Liberation Sans","labelFontSize":11.5,"labelColor":"#131722","labelPadding":9,"tickSize":0,"domain":false,"grid":true,"gridColor":"#F0F2F5","gridWidth":1}}
},
"layer":[
{"data":{"name":"cells"},"mark":{"type":"rect","fill":"#9575CD","fillOpacity":0.2,"stroke":"#8F8A9B","strokeOpacity":0.8,"strokeWidth":1},"encoding":{"x2":{"field":"d2"},"y2":{"field":"p2"}}},
{"data":{"values":[{"d":18.341,"d2":33.716,"p":0.8732}]},"mark":{"type":"rule","stroke":"#F23645","strokeWidth":1,"strokeDash":[1.5,1.5]},"encoding":{"x2":{"field":"d2"}}},
{"data":{"name":"candles"},"mark":{"type":"rule","strokeWidth":1},"encoding":{"y2":{"field":"h"},"color":{"condition":{"test":"datum.c>=datum.o","value":"#089981"},"value":"#F23645"}}},
{"data":{"name":"candles"},"mark":{"type":"rule","strokeWidth":2},"encoding":{"y":{"field":"o","type":"quantitative","title":null,"scale":{"domain":[0.79136,0.95897],"nice":false,"zero":false},"axis":{"orient":"right","values":[0.80,0.81,0.82,0.83,0.84,0.85,0.86,0.87,0.88,0.89,0.90,0.91,0.92,0.93,0.94,0.95],"labelExpr":"replace(format(datum.value,'.3f'),'.',',')","labelFont":"Liberation Sans","labelFontSize":11.5,"labelColor":"#131722","labelPadding":9,"tickSize":0,"domain":false,"grid":true,"gridColor":"#F0F2F5","gridWidth":1}},"y2":{"field":"c"},"color":{"condition":{"test":"datum.c>=datum.o","value":"#089981"},"value":"#F23645"}}},
{"data":{"name":"thin"},"mark":{"type":"rule","stroke":"#F2606A","strokeWidth":1},"encoding":{"x2":{"field":"d2"},"y2":{"field":"p2"}}},
{"data":{"name":"wave"},"mark":{"type":"line","stroke":"#B39DDB","strokeWidth":2.2,"strokeJoin":"miter"}},
{"data":{"values":[{"d":28.474,"p":0.8977,"t":"bu dalganın saati"}]},"mark":{"type":"text","font":"Noto Sans","fontSize":18.5,"angle":41.5,"color":"#43A93F","align":"center","baseline":"middle"},"encoding":{"text":{"field":"t"}}},
{"data":{"name":"arrow"},"mark":{"type":"rule","stroke":"#F23645","strokeWidth":3.4,"strokeCap":"round"},"encoding":{"x2":{"field":"d2"},"y2":{"field":"p2"}}},
{"data":{"values":[{"d":29.350,"p":0.8751,"t":"18:09"}]},"mark":{"type":"text","font":"Liberation Sans","fontWeight":"bold","fontSize":24,"color":"#F23645","align":"center","baseline":"middle"},"encoding":{"text":{"field":"t"}}},
{"data":{"name":"notes"},"mark":{"type":"text","font":"Noto Sans","fontSize":16.8,"color":"#131722","align":"left","baseline":"middle"},"encoding":{"text":{"field":"t"}}},
{"data":{"values":[{"d":29.75,"p":0.95897,"p2":0.79136}]},"mark":{"type":"rule","stroke":"#000000","strokeWidth":1},"encoding":{"y2":{"field":"p2"}}},
{"data":{"values":[{"d":29.179,"d2":30.333,"p":0.79136,"p2":0.7863}]},"mark":{"type":"rect","fill":"#000000"},"encoding":{"x2":{"field":"d2"},"y2":{"field":"p2"}}},
{"data":{"values":[{"d":29.75,"p":0.7888,"t":"Çar 29 Eki '25\u00a0\u00a0\u00a018:00"}]},"mark":{"type":"text","font":"Liberation Sans","fontSize":11.5,"color":"#ffffff","align":"center","baseline":"middle"},"encoding":{"text":{"field":"t"}}},
{"data":{"name":"tags"},"mark":{"type":"rule","stroke":"#F23645","strokeWidth":17},"encoding":{"x2":{"field":"d2"}}},
{"data":{"name":"tags"},"mark":{"type":"text","font":"Liberation Sans","fontSize":11.5,"color":"#ffffff","align":"left","baseline":"middle","dx":7.7},"encoding":{"text":{"field":"t"}}},
{"data":{"values":[{"d":33.716,"d2":34.325,"p":0.8735}]},"mark":{"type":"rule","stroke":"#F23645","strokeWidth":17},"encoding":{"x2":{"field":"d2"}}},
{"data":{"values":[{"d":34.02,"p":0.8735,"t":"MASKUSDT"}]},"mark":{"type":"text","font":"Liberation Sans","fontSize":11,"color":"#ffffff","align":"center","baseline":"middle"},"encoding":{"text":{"field":"t"}}},
{"data":{"values":[{"d":34.353,"d2":34.770,"p":0.9581,"p2":0.9522}]},"mark":{"type":"rect","fill":"#ffffff","stroke":"#F0F3FA","strokeWidth":1.5,"cornerRadius":3},"encoding":{"x2":{"field":"d2"},"y2":{"field":"p2"}}},
{"data":{"values":[{"d":34.561,"p":0.9549,"t":"USDT"}]},"mark":{"type":"text","font":"Liberation Sans","fontSize":11.5,"color":"#131722","align":"center","baseline":"middle"},"encoding":{"text":{"field":"t"}}},
{"data":{"values":[{"d":18.341,"d2":34.806,"p":0.95897,"p2":0.7853}]},"mark":{"type":"rect","fill":null,"stroke":"#2A2A2E","strokeWidth":1},"encoding":{"x2":{"field":"d2"},"y2":{"field":"p2"}}},
{"data":{"values":[{"d":18.425,"p":0.95521,"t":"MASK / TetherUS · 15 · Binance · Heikin Ashi"}]},"mark":{"type":"text","font":"Noto Sans","fontWeight":600,"fontSize":12,"color":"#131722","align":"left","baseline":"middle"},"encoding":{"text":{"field":"t"}}},
{"data":{"values":[{"d":18.344,"p":0.96555,"t":"Kapitalist01"}]},"mark":{"type":"text","font":"Noto Sans","fontWeight":"bold","fontSize":11.2,"color":"#131722","align":"left","baseline":"middle"},"encoding":{"text":{"field":"t"}}},
{"data":{"name":"headBold"},"mark":{"type":"text","font":"Noto Sans","fontWeight":"bold","fontSize":12,"color":"#131722","align":"left","baseline":"middle"},"encoding":{"text":{"field":"t"}}},
{"data":{"name":"headPlain"},"mark":{"type":"text","font":"Noto Sans","fontSize":12.2,"color":"#2A2E39","align":"left","baseline":"middle"},"encoding":{"text":{"field":"t"}}},
{"data":{"name":"headRed"},"mark":{"type":"text","font":"Noto Sans","fontSize":12,"color":"#F7525F","align":"left","baseline":"middle"},"encoding":{"text":{"field":"t"}}},
{"data":{"name":"logoBars"},"mark":{"type":"rule","stroke":"#131722","strokeWidth":3.6},"encoding":{"x2":{"field":"d2"},"y2":{"field":"p2"}}},
{"data":{"values":[{"d":18.590,"p":0.78126,"t":"TradingView"}]},"mark":{"type":"text","font":"Inter","fontWeight":600,"fontSize":15.5,"color":"#131722","align":"left","baseline":"middle"},"encoding":{"text":{"field":"t"}}}
]
}
